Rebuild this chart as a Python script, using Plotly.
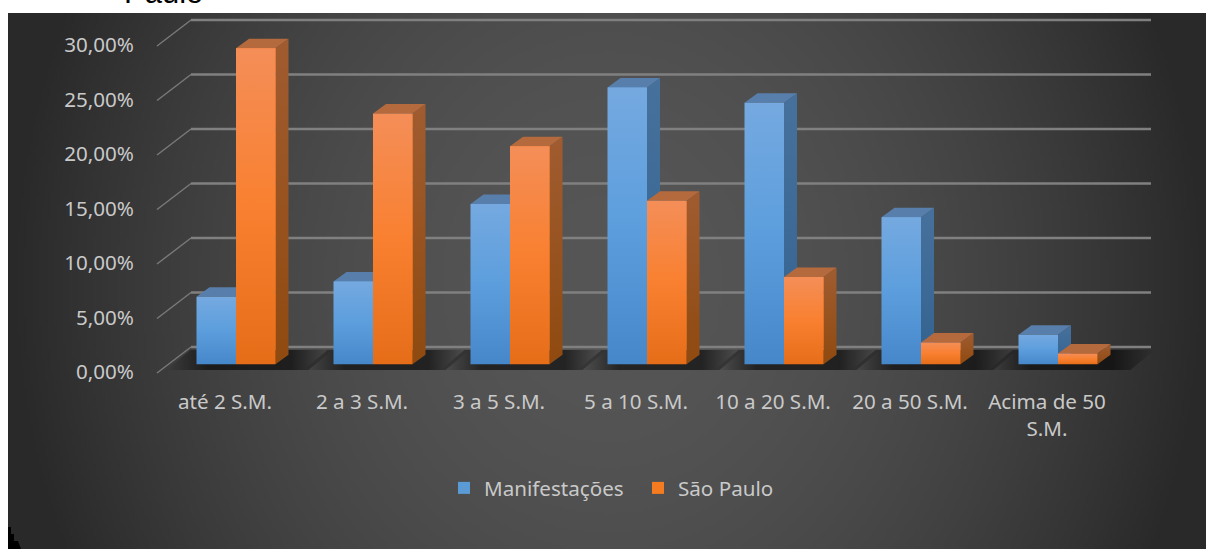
import base64, struct, zlib
import numpy as np
import plotly.graph_objects as go

categories = ["até 2 S.M.", "2 a 3 S.M.", "3 a 5 S.M.", "5 a 10 S.M.", "10 a 20 S.M.", "20 a 50 S.M.", "Acima de 50<br>S.M."]
manifestacoes = [6.2, 7.6, 14.7, 25.4, 24.0, 13.5, 2.7]
sao_paulo = [29.0, 23.0, 20.0, 15.0, 8.0, 2.0, 1.0]
y_ticks = [0, 5, 10, 15, 20, 25, 30]
y_tick_labels = ["0,00%", "5,00%", "10,00%", "15,00%", "20,00%", "25,00%", "30,00%"]

W, H = 1206, 549
PX_X, X0 = 137.0, 236.0      # pixels per category, pixel of the first category
PX_Y, Y0 = 10.9, 373.0       # pixels per percent, pixel of the front 0 line
to_x = lambda p: (p - X0) / PX_X
to_y = lambda p: (Y0 - p) / PX_Y
BAR_W = 39.5 / PX_X
DX, DY = 13 / PX_X, 9.5 / PX_Y       # bar depth
PLANE = (Y0 - 364.3) / PX_Y          # bars stand a little behind the front edge
WALL_DY = 26.0 / PX_Y
n = len(categories)


def background_png():
    w, h = 400, 178
    yy, xx = np.mgrid[0:h, 0:w]
    r = np.sqrt(((xx - w * 0.5) / (w * 0.5)) ** 2 + (0.4 * (yy - h * 0.5) / (h * 0.5)) ** 2)
    t = np.clip(r, 0, 1)
    g = (0x56 + (0x29 - 0x56) * t ** 1.9).astype(np.uint8)
    raw = b"".join(b"\x00" + g[i].tobytes() for i in range(h))
    def chunk(tag, data):
        return struct.pack(">I", len(data)) + tag + data + struct.pack(">I", zlib.crc32(tag + data))
    png = b"\x89PNG\r\n\x1a\n" + chunk(b"IHDR", struct.pack(">IIBBBBB", w, h, 8, 0, 0, 0, 0)) + chunk(b"IDAT", zlib.compress(raw)) + chunk(b"IEND", b"")
    return "data:image/png;base64," + base64.b64encode(png).decode()


fig = go.Figure()

# Real bars (legend + base layer)
for name, vals, off, col in [("Manifestações", manifestacoes, -BAR_W / 2, "#5b9bd5"), ("São Paulo", sao_paulo, BAR_W / 2, "#f47b20")]:
    fig.add_trace(go.Bar(x=[i + off for i in range(n)], y=vals, base=[PLANE] * n, width=BAR_W, name=name,
                         marker=dict(color=col, line=dict(width=0)), hoverinfo="skip"))

# Back wall grid and its diagonals
gx, gy, dx_, dy_ = [], [], [], []
for v in y_ticks:
    gx += [to_x(191), to_x(1151), None]
    gy += [v + WALL_DY, v + WALL_DY, None]
    dx_ += [to_x(157), to_x(191), None]
    dy_ += [v, v + WALL_DY, None]
fig.add_trace(go.Scatter(x=gx, y=gy, mode="lines", line=dict(color="#808080", width=2.3), showlegend=False, hoverinfo="skip"))
fig.add_trace(go.Scatter(x=dx_, y=dy_, mode="lines", line=dict(color="#7a7a7a", width=1.4), showlegend=False, hoverinfo="skip"))

# Floor shadow of each group
for i in range(n):
    l = i - BAR_W
    x_low = l - 30 / PX_X
    x_high = i + BAR_W + 33 / PX_X
    sh = 24 / PX_X
    low, high = to_y(370), to_y(350)
    fig.add_trace(go.Scatter(x=[x_low, x_high, x_high + sh, x_low + sh, x_low], y=[low, low, high, high, low],
                             mode="lines", line=dict(width=0), fill="toself", showlegend=False, hoverinfo="skip",
                             fillgradient=dict(type="horizontal", colorscale=[[0, "rgba(0,0,0,0)"], [0.25, "rgba(0,0,0,0.58)"], [0.75, "rgba(0,0,0,0.58)"], [1, "rgba(0,0,0,0)"]])))


def poly(xs, ys, **kw):
    fig.add_trace(go.Scatter(x=xs, y=ys, mode="lines", line=dict(width=0), fill="toself", showlegend=False, hoverinfo="skip", **kw))


STY = {
    "b": dict(top="#587fab", side=[[0, "#33628f"], [1, "#47719d"]], front=[[0, "#4587c9"], [0.5, "#5c9edd"], [1, "#75a9e0"]]),
    "o": dict(top="#b56a3e", side=[[0, "#8f4a10"], [1, "#a05c30"]], front=[[0, "#e66d18"], [0.5, "#f98030"], [1, "#f48e58"]]),
}
# draw group by group, blue then orange, so nearer faces overlap correctly
for i in range(n):
    for key, vals, off in [("b", manifestacoes, -BAR_W), ("o", sao_paulo, 0)]:
        v = vals[i] + PLANE
        l, r = i + off, i + off + BAR_W
        s = STY[key]
        poly([r, r + DX, r + DX, r, r], [PLANE, PLANE + DY, v + DY, v, PLANE], fillgradient=dict(type="vertical", colorscale=s["side"]))
        poly([l, r, r + DX, l + DX, l], [v, v, v + DY, v + DY, v], fillcolor=s["top"])
        poly([l, r, r, l, l], [PLANE, PLANE, v, v, PLANE], fillgradient=dict(type="vertical", colorscale=s["front"]))

TEXT = "#c9c9c9"
FONT = "Noto Sans"
FS = 20.6
fig.update_layout(
    width=W, height=H, margin=dict(l=0, r=0, t=0, b=0), paper_bgcolor="white", plot_bgcolor="rgba(0,0,0,0)",
    barmode="overlay", font=dict(family=FONT, color=TEXT, size=FS),
    xaxis=dict(range=[to_x(0), to_x(W)], domain=[0, 1], anchor="free", position=(H - Y0) / H, tickmode="array",
               tickvals=[i - 11 / PX_X for i in range(n)], ticktext=categories, showgrid=False, zeroline=False, showline=False,
               ticks="outside", ticklen=10, tickcolor="rgba(0,0,0,0)", tickfont=dict(size=FS, color=TEXT, family=FONT)),
    yaxis=dict(range=[to_y(H), to_y(0)], domain=[0, 1], anchor="free", position=134 / W, tickmode="array",
               tickvals=y_ticks, ticktext=y_tick_labels, showgrid=False, zeroline=False, showline=False,
               ticks="", ticklabelshift=-1, tickfont=dict(size=FS, color=TEXT, family=FONT)),
    legend=dict(orientation="h", x=444 / W, y=1 - 468 / H, xanchor="left", yanchor="top", bgcolor="rgba(0,0,0,0)",
                font=dict(size=FS, color=TEXT, family=FONT), traceorder="normal", entrywidth=149, entrywidthmode="pixels"),
    images=[dict(source=background_png(), xref="paper", yref="paper", x=8 / W, y=1 - 13 / H, sizex=(W - 8) / W, sizey=(H - 13) / H,
                 xanchor="left", yanchor="top", sizing="stretch", layer="below")],
    shapes=[dict(type="path", xref="paper", yref="paper", line=dict(width=0), fillcolor="black",
                 path="M %f %f L %f %f L %f %f L %f %f L %f %f L %f %f L %f %f L %f %f Z" % (
                     8/W, 1-527/H, 11/W, 1-527/H, 11/W, 1-534/H, 14/W, 1-534/H, 14/W, 1-541/H, 18/W, 1-541/H, 21/W, 0, 8/W, 0))],
    annotations=[dict(text="Paulo", xref="paper", yref="paper", x=122 / W, y=1 - 12 / H, xanchor="left", yanchor="bottom", showarrow=False,
                      font=dict(family="Liberation Sans", size=31, color="black"))],
    bargap=0,
)
fig.write_html("out.html", post_script="document.body.style.margin='0';", config=dict(displayModeBar=False))
